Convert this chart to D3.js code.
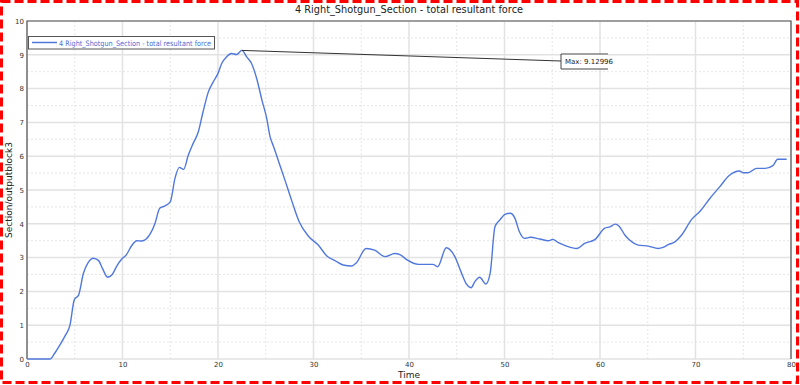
<!DOCTYPE html>
<html lang="en">
  <head>
    <meta charset="utf-8">
    <title>total resultant force</title>
    <script src="https://cdn.jsdelivr.net/npm/d3@7"></script>
    <style>
      body { margin: 0; background: #fff; }
      .axis path, .axis line { display: none; }
      .axis text {
        font-family: "DejaVu Sans", Verdana, sans-serif;
        font-size: 7px;
        fill: #333;
      }
    </style>
  </head>
  <body>
    <script>
      var chartTitle = "4 Right_Shotgun_Section - total resultant force";
      var seriesName = "4 Right_Shotgun_Section - total resultant force";
      var xLabel = "Time";
      var yLabel = "Section/outputblock3";
      var maxLabel = "Max: 9.12996";
      var xTicks = [0, 10, 20, 30, 40, 50, 60, 70, 80];
      var yTicks = [0, 1, 2, 3, 4, 5, 6, 7, 8, 9, 10];

      var time = [0, 2.4, 2.9, 3.5, 4.0, 4.5, 4.95, 5.4, 5.9, 6.4, 6.95, 7.5, 7.9, 8.45, 8.9, 9.4, 9.9,
        10.4, 10.95, 11.5, 12.0, 12.9, 13.4, 13.9, 14.45, 15.0, 15.5, 15.95, 16.4, 16.9, 17.4, 17.95,
        18.4, 19.0, 19.5, 20.0, 20.4, 20.9, 21.4, 21.95, 22.5, 23.0, 23.5, 24.05, 24.6, 25.1, 25.45,
        25.8, 26.4, 27.0, 27.7, 28.5, 29.45, 30.5, 31.4, 32.25, 33.1, 34.0, 34.5, 35.5, 36.4, 37.5,
        38.5, 39.1, 39.8, 41.0, 42.5, 43.0, 43.9, 44.8, 45.5, 46.0, 46.5, 46.9, 47.4, 48.05, 48.5,
        49.0, 49.5, 50.05, 50.6, 51.1, 51.55, 52.1, 52.7, 53.7, 54.6, 55.05, 55.65, 56.5, 57.55,
        58.4, 59.5, 60.5, 61.05, 61.6, 62.0, 62.6, 63.1, 64.0, 65.05, 66.1, 66.6, 67.2, 67.7, 68.55,
        69.6, 70.5, 71.5, 72.55, 73.5, 74.6, 75.0, 75.5, 76.4, 77.3, 78.1, 78.6, 79.55];
      var force = [0, 0, 0.17, 0.44, 0.69, 1.0, 1.75, 1.89, 2.53, 2.85, 2.98, 2.91, 2.68, 2.42, 2.49, 2.75, 2.95,
        3.08, 3.35, 3.5, 3.49, 3.7, 4.01, 4.46, 4.53, 4.65, 5.35, 5.67, 5.61, 6.04, 6.38, 6.73,
        7.27, 7.91, 8.2, 8.45, 8.75, 8.94, 9.04, 9.01, 9.12996, 8.94, 8.75, 8.3, 7.66, 7.12, 6.58,
        6.3, 5.8, 5.3, 4.7, 4.06, 3.64, 3.37, 3.05, 2.91, 2.78, 2.75, 2.85, 3.27, 3.22, 3.03,
        3.12, 3.08, 2.93, 2.8, 2.8, 2.73, 3.29, 3.03, 2.54, 2.22, 2.11, 2.29, 2.42, 2.22, 2.54,
        3.91, 4.11, 4.28, 4.31, 4.16, 3.77, 3.57, 3.6, 3.55, 3.5, 3.54, 3.44, 3.34, 3.27,
        3.42, 3.54, 3.87, 3.91, 3.99, 3.93, 3.67, 3.52, 3.37, 3.34, 3.27, 3.3, 3.39, 3.44, 3.67,
        4.13, 4.38, 4.75, 5.1, 5.42, 5.56, 5.51, 5.51, 5.64, 5.64, 5.72, 5.91, 5.91];

      var w = 800, h = 385;
      var pLeft = 27, pRight = 791, pTop = 21, pBottom = 359;

      var svg = d3.select("body").append("svg")
                  .attr("width", w)
                  .attr("height", h);

      var xScale = d3.scaleLinear().domain([0, 80]).range([pLeft, pRight]);
      var yScale = d3.scaleLinear().domain([0, 10]).range([pBottom, pTop]);

      // minor grid (dashed)
      var grid = svg.append("g");
      grid.selectAll(".xminor")
          .data(xTicks.slice(0, -1).map(function (d) { return d + 5; }))
          .enter().append("line")
          .attr("x1", function (d) { return xScale(d); })
          .attr("x2", function (d) { return xScale(d); })
          .attr("y1", pTop).attr("y2", pBottom)
          .attr("stroke", "#e6e6e6").attr("stroke-dasharray", "2,2");
      grid.selectAll(".yminor")
          .data(yTicks.slice(0, -1).map(function (d) { return d + 0.5; }))
          .enter().append("line")
          .attr("y1", function (d) { return yScale(d); })
          .attr("y2", function (d) { return yScale(d); })
          .attr("x1", pLeft).attr("x2", pRight)
          .attr("stroke", "#e6e6e6").attr("stroke-dasharray", "2,2");
      // major grid
      grid.selectAll(".xmajor")
          .data(xTicks)
          .enter().append("line")
          .attr("x1", function (d) { return xScale(d); })
          .attr("x2", function (d) { return xScale(d); })
          .attr("y1", pTop).attr("y2", pBottom)
          .attr("stroke", "#e2e2e2").attr("stroke-width", 1.5);
      grid.selectAll(".ymajor")
          .data(yTicks)
          .enter().append("line")
          .attr("y1", function (d) { return yScale(d); })
          .attr("y2", function (d) { return yScale(d); })
          .attr("x1", pLeft).attr("x2", pRight)
          .attr("stroke", "#e2e2e2").attr("stroke-width", 1.5);

      // frame
      svg.append("path")
         .attr("d", "M" + pLeft + "," + pBottom + "V" + pTop + "H" + pRight + "V" + pBottom)
         .attr("fill", "none")
         .attr("stroke", "#555")
         .attr("stroke-width", 1.2);

      // axes
      svg.append("g")
         .attr("class", "axis")
         .attr("transform", "translate(0," + pBottom + ")")
         .call(d3.axisBottom(xScale).tickValues(xTicks).tickSize(0).tickPadding(3));
      svg.append("g")
         .attr("class", "axis")
         .attr("transform", "translate(" + pLeft + ",0)")
         .call(d3.axisLeft(yScale).tickValues(yTicks).tickSize(0).tickPadding(3));

      // data line
      var pts = time.map(function (t, i) { return [t, force[i]]; });
      var line = d3.line()
                   .x(function (d) { return xScale(d[0]); })
                   .y(function (d) { return yScale(d[1]); })
                   .curve(d3.curveMonotoneX);
      svg.append("path")
         .datum(pts)
         .attr("d", line)
         .attr("fill", "none")
         .attr("stroke", "#5078dc")
         .attr("stroke-width", 1.4);

      // max annotation
      var iMax = d3.maxIndex(force);
      var bx = 561, by = 54, bw = 47, bh = 15;
      svg.append("line")
         .attr("x1", xScale(time[iMax])).attr("y1", yScale(force[iMax]))
         .attr("x2", bx).attr("y2", by + 7)
         .attr("stroke", "#333").attr("stroke-width", 1);
      svg.append("path")
         .attr("d", "M" + (bx + bw) + "," + by + "H" + bx + "V" + (by + bh) + "H" + (bx + bw))
         .attr("fill", "#fff")
         .attr("stroke", "#444").attr("stroke-width", 1);
      svg.append("text")
         .attr("x", bx + 4).attr("y", by + 10)
         .attr("font-family", "DejaVu Sans, sans-serif")
         .attr("font-size", "7px")
         .attr("fill", "#222")
         .text(maxLabel);

      // legend
      svg.append("rect")
         .attr("x", 28.5).attr("y", 36.5).attr("width", 186).attr("height", 12.5)
         .attr("fill", "#fff").attr("stroke", "#555").attr("stroke-width", 1);
      svg.append("line")
         .attr("x1", 32).attr("x2", 57).attr("y1", 42.5).attr("y2", 42.5)
         .attr("stroke", "#5078dc").attr("stroke-width", 1.5);
      svg.append("text")
         .attr("x", 59).attr("y", 45.5)
         .attr("font-family", "DejaVu Sans, sans-serif")
         .attr("font-size", "7.5px")
         .attr("fill", "#4a6fd6")
         .attr("textLength", 152)
         .attr("lengthAdjust", "spacingAndGlyphs")
         .text(seriesName);

      // titles
      svg.append("text")
         .attr("x", 409).attr("y", 13)
         .attr("text-anchor", "middle")
         .attr("font-family", "DejaVu Sans, sans-serif")
         .attr("font-size", "10px")
         .attr("fill", "#222")
         .attr("textLength", 228)
         .attr("lengthAdjust", "spacingAndGlyphs")
         .text(chartTitle);
      svg.append("text")
         .attr("x", 409).attr("y", 378)
         .attr("text-anchor", "middle")
         .attr("font-family", "DejaVu Sans, sans-serif")
         .attr("font-size", "9px")
         .attr("fill", "#222")
         .text(xLabel);
      svg.append("text")
         .attr("transform", "translate(12,190) rotate(-90)")
         .attr("text-anchor", "middle")
         .attr("font-family", "DejaVu Sans, sans-serif")
         .attr("font-size", "9px")
         .attr("fill", "#222")
         .text(yLabel);

      // red dashed outline
      svg.append("rect")
         .attr("x", 1.5).attr("y", 1.5).attr("width", 796).attr("height", 381)
         .attr("fill", "none")
         .attr("stroke", "#ff0000").attr("stroke-width", 3)
         .attr("stroke-dasharray", "9,4");
    </script>
  </body>
</html>
